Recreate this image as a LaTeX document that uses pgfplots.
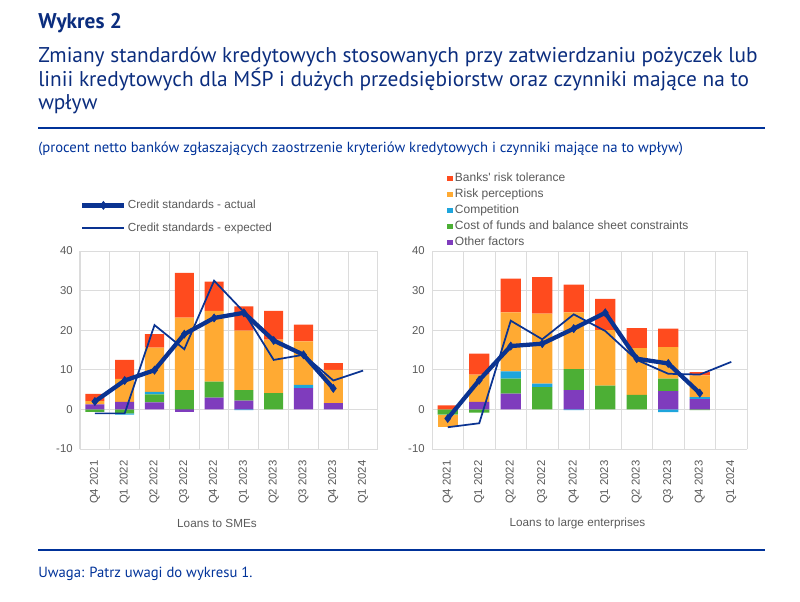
\documentclass[border=0pt]{standalone}
\usepackage{pgfplots}
\usepackage{pgfplotstable}
\pgfplotsset{compat=1.18}
\usepackage{fontspec}
\setmainfont{PT Sans}
\newfontfamily\chartfont{Liberation Sans}
\definecolor{ecbblue}{HTML}{003299}
\definecolor{titleblue}{HTML}{0B2D7E}
\definecolor{cRed}{HTML}{FF4B1E}
\definecolor{cOrange}{HTML}{FFAA33}
\definecolor{cCyan}{HTML}{1EA5DC}
\definecolor{cGreen}{HTML}{4CAF35}
\definecolor{cPurple}{HTML}{7F3CBD}
\definecolor{lineblue}{HTML}{0A3391}
\definecolor{gridgray}{HTML}{DCDCDC}
\definecolor{ticktext}{HTML}{595959}

% SMEs: factor contributions
\pgfplotstableread{
x other cost comp risk banks
0 1.3 -0.6 0 0.8 1.8
1 1.9 -1.0 -0.3 5.8 4.8
2 1.8 2.0 0.6 11.2 3.4
3 -0.7 4.9 0 18.3 11.3
4 3.0 4.0 0 17.9 7.4
5 2.2 2.7 -0.2 15.0 6.1
6 0 4.1 0 13.5 7.3
7 5.4 0 0.8 11.0 4.2
8 1.6 0 0 8.4 1.7
}\smebars
\pgfplotstableread{
x act exp
0 2.0 -1.0
1 7.3 -1.0
2 9.9 21.3
3 19.0 15.2
4 23.1 32.5
5 24.4 24.6
6 17.4 12.5
7 13.8 13.8
8 5.3 7.3
9 nan 9.8
}\smelines
% Large enterprises
\pgfplotstableread{
x other cost comp risk banks
0 0 -1.3 0 -3.2 1.0
1 1.9 -0.8 0 6.9 5.3
2 4.0 3.8 1.8 14.9 8.5
3 0 5.6 0.9 17.7 9.2
4 4.9 5.3 -0.2 14.3 7.0
5 0 6.0 0 14.0 7.9
6 0 3.7 0 11.8 5.0
7 4.6 3.2 -0.7 7.9 4.7
8 2.6 -0.2 0.5 5.5 0.8
}\largebars
\pgfplotstableread{
x act exp
0 -2.3 -4.5
1 7.4 -3.5
2 16.0 22.4
3 16.6 17.7
4 20.4 24.0
5 24.4 19.8
6 12.8 12.5
7 11.6 9.0
8 4.1 8.8
9 nan 12.0
}\largelines

\pgfplotsset{
  chartbase/.style={
    scale only axis, height=148.5pt,
    xmin=-0.5, xmax=9.5, ymin=-10, ymax=40,
    enlargelimits=false, clip=false,
  },
  framestyle/.style={chartbase,
    axis line style={draw=none},
    major tick length=0pt, minor tick length=0pt,
    ytick={-10,0,10,20,30,40},
    ymajorgrids,
    xtick={0,1,2,3,4,5,6,7,8,9},
    xticklabels={Q4 2021,Q1 2022,Q2 2022,Q3 2022,Q4 2022,Q1 2023,Q2 2023,Q3 2023,Q4 2023,Q1 2024},
    minor xtick={-0.5,0.5,1.5,2.5,3.5,4.5,5.5,6.5,7.5,8.5,9.5},
    xminorgrids,
    grid style={gridgray, line width=0.75pt},
    minor grid style={gridgray, line width=0.75pt},
    /pgf/number format/assume math mode=true,
    tick label style={font=\chartfont\fontsize{8.5}{10}\selectfont, text=ticktext},
    yticklabel style={xshift=-2pt},
    x tick label style={rotate=90, anchor=east, xshift=-5pt},
    xlabel style={font=\chartfont\fontsize{8.8}{10}\selectfont, text=ticktext,
      at={(axis description cs:0.5,0)}, anchor=center, yshift=-56pt, xshift=-9pt},
    ybar stacked, bar width=0.64,
  },
  overstyle/.style={chartbase, hide axis},
  barover/.style={overstyle, ybar stacked, bar width=0.64},
}

\begin{document}
\begin{tikzpicture}
\path[use as bounding box] (0,0) rectangle (600pt,-450.75pt);
\begin{scope}[x=0.75pt,y=-0.75pt]
\node[anchor=base west, inner sep=0pt, font=\bfseries\fontsize{16}{18}\selectfont, text=titleblue] at (38,28) {Wykres 2};
\node[anchor=base west, inner sep=0pt, font=\fontsize{16}{19}\selectfont, text=titleblue] at (38,62) {Zmiany standardów kredytowych stosowanych przy zatwierdzaniu pożyczek lub};
\node[anchor=base west, inner sep=0pt, font=\fontsize{16}{19}\selectfont, text=titleblue] at (38,86) {linii kredytowych dla MŚP i dużych przedsiębiorstw oraz czynniki mające na to};
\node[anchor=base west, inner sep=0pt, font=\fontsize{16}{19}\selectfont, text=titleblue] at (38,109) {wpływ};
\draw[ecbblue, line width=1.5pt] (38,128) -- (765,128);
\node[anchor=base west, inner sep=0pt, font=\fontsize{11}{13}\selectfont, text=ecbblue] at (38,152) {(procent netto banków zgłaszających zaostrzenie kryteriów kredytowych i czynniki mające na to wpływ)};
\draw[ecbblue, line width=1.2pt] (38,550) -- (765,550);
\node[anchor=base west, inner sep=0pt, font=\fontsize{11}{13}\selectfont, text=ecbblue] at (38,577) {Uwaga: Patrz uwagi do wykresu 1.};
\end{scope}

% ---------- Left chart: SMEs ----------
\begin{axis}[framestyle, width=223.5pt, at={(60pt,-336.75pt)}, anchor=south west, xlabel={Loans to SMEs}]
\addplot[fill=cPurple, draw=none] table[x=x, y expr={min(\thisrow{other},0)}] {\smebars};
\addplot[fill=cGreen, draw=none] table[x=x, y expr={min(\thisrow{cost},0)}] {\smebars};
\addplot[fill=cCyan, draw=none] table[x=x, y expr={min(\thisrow{comp},0)}] {\smebars};
\addplot[fill=cOrange, draw=none] table[x=x, y expr={min(\thisrow{risk},0)}] {\smebars};
\addplot[fill=cRed, draw=none] table[x=x, y expr={min(\thisrow{banks},0)}] {\smebars};
\end{axis}
\begin{axis}[barover, width=223.5pt, at={(60pt,-336.75pt)}, anchor=south west]
\addplot[fill=cPurple, draw=none] table[x=x, y expr={max(\thisrow{other},0)}] {\smebars};
\addplot[fill=cGreen, draw=none] table[x=x, y expr={max(\thisrow{cost},0)}] {\smebars};
\addplot[fill=cCyan, draw=none] table[x=x, y expr={max(\thisrow{comp},0)}] {\smebars};
\addplot[fill=cOrange, draw=none] table[x=x, y expr={max(\thisrow{risk},0)}] {\smebars};
\addplot[fill=cRed, draw=none] table[x=x, y expr={max(\thisrow{banks},0)}] {\smebars};
\end{axis}
\begin{axis}[overstyle, width=223.5pt, at={(60pt,-336.75pt)}, anchor=south west,
  legend style={at={(axis description cs:0.0,1.265)}, anchor=north west, draw=none, fill=none, inner sep=0pt,
    font=\chartfont\fontsize{8.8}{10}\selectfont, text=ticktext, row sep=7pt,
    nodes={inner sep=1pt}},
  legend cell align=left,
  legend image code/.code={\draw[mark repeat=2, mark phase=2, #1] plot coordinates {(0pt,0pt) (15.75pt,0pt) (31.5pt,0pt)};}]
\addplot[lineblue, line width=3.2pt, mark=diamond*, mark size=3pt, mark options={solid, line width=0.5pt}] table[x=x, y=act] {\smelines};
\addlegendentry{Credit standards - actual}
\addplot[lineblue, line width=1.3pt] table[x=x, y=exp] {\smelines};
\addlegendentry{Credit standards - expected}
\end{axis}

% ---------- Right chart: large enterprises ----------
\begin{axis}[framestyle, width=236.25pt, at={(324pt,-336.75pt)}, anchor=south west, xlabel={Loans to large enterprises}]
\addplot[fill=cPurple, draw=none] table[x=x, y expr={min(\thisrow{other},0)}] {\largebars};
\addplot[fill=cGreen, draw=none] table[x=x, y expr={min(\thisrow{cost},0)}] {\largebars};
\addplot[fill=cCyan, draw=none] table[x=x, y expr={min(\thisrow{comp},0)}] {\largebars};
\addplot[fill=cOrange, draw=none] table[x=x, y expr={min(\thisrow{risk},0)}] {\largebars};
\addplot[fill=cRed, draw=none] table[x=x, y expr={min(\thisrow{banks},0)}] {\largebars};
\end{axis}
\begin{axis}[barover, width=236.25pt, at={(324pt,-336.75pt)}, anchor=south west,
  legend style={at={(axis description cs:0.048,1.408)}, anchor=north west, draw=none, fill=none, inner sep=0pt,
    font=\chartfont\fontsize{9}{10}\selectfont, text=ticktext, row sep=0pt,
    nodes={inner sep=1.25pt, text height=7pt, text depth=2.5pt}},
  legend cell align=left, reverse legend,
  legend image code/.code={\fill[#1] (0pt,-2.2pt) rectangle (4.4pt,2.2pt);}]
\addplot[fill=cPurple, draw=none] table[x=x, y expr={max(\thisrow{other},0)}] {\largebars};
\addlegendentry{Other factors}
\addplot[fill=cGreen, draw=none] table[x=x, y expr={max(\thisrow{cost},0)}] {\largebars};
\addlegendentry{Cost of funds and balance sheet constraints}
\addplot[fill=cCyan, draw=none] table[x=x, y expr={max(\thisrow{comp},0)}] {\largebars};
\addlegendentry{Competition}
\addplot[fill=cOrange, draw=none] table[x=x, y expr={max(\thisrow{risk},0)}] {\largebars};
\addlegendentry{Risk perceptions}
\addplot[fill=cRed, draw=none] table[x=x, y expr={max(\thisrow{banks},0)}] {\largebars};
\addlegendentry{Banks' risk tolerance}
\end{axis}
\begin{axis}[overstyle, width=236.25pt, at={(324pt,-336.75pt)}, anchor=south west]
\addplot[lineblue, line width=3.2pt, mark=diamond*, mark size=3pt, mark options={solid, line width=0.5pt}] table[x=x, y=act] {\largelines};
\addplot[lineblue, line width=1.3pt] table[x=x, y=exp] {\largelines};
\end{axis}
\end{tikzpicture}
\end{document}
